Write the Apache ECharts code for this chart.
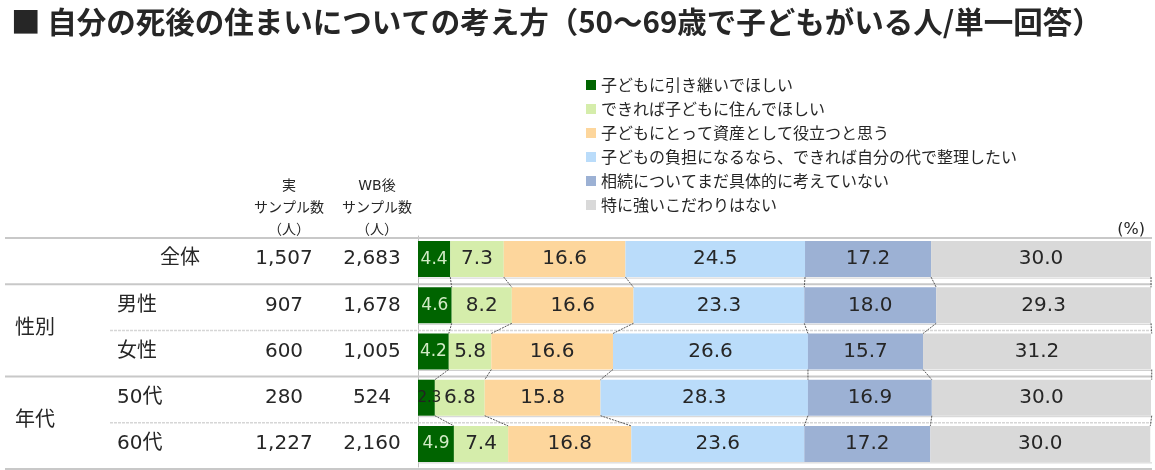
<!DOCTYPE html>
<html><head><meta charset="utf-8">
<script src="https://cdn.jsdelivr.net/npm/echarts@6/dist/echarts.min.js"></script>
<style>html,body{margin:0;padding:0;background:#fff}#c{width:1155px;height:470px}</style>
</head><body><div id="c"></div>
<script>
// ---- data ----
const categories = ['全体', '男性', '女性', '50代', '60代'];
const groupOf = ['全体', '性別', '性別', '年代', '年代'];
const groupLabels = ['', '性別', '', '年代', ''];
const actualN = ['1,507', '907', '600', '280', '1,227'];
const wbN = ['2,683', '1,678', '1,005', '524', '2,160'];
const seriesNames = [
  '子どもに引き継いでほしい',
  'できれば子どもに住んでほしい',
  '子どもにとって資産として役立つと思う',
  '子どもの負担になるなら、できれば自分の代で整理したい',
  '相続についてまだ具体的に考えていない',
  '特に強いこだわりはない'
];
const inheritVals = [4.4, 4.6, 4.2, 2.3, 4.9];
const liveVals = [7.3, 8.2, 5.8, 6.8, 7.4];
const assetVals = [16.6, 16.6, 16.6, 15.8, 16.8];
const tidyVals = [24.5, 23.3, 26.6, 28.3, 23.6];
const undecidedVals = [17.2, 18.0, 15.7, 16.9, 17.2];
const noPrefVals = [30.0, 29.3, 31.2, 30.0, 30.0];
const headerActual = '実\nサンプル数\n（人）';
const headerWB = 'WB後\nサンプル数\n（人）';
const titleText = '■ 自分の死後の住まいについての考え方（50～69歳で子どもがいる人/単一回答）';

// ---- styles ----
const FONT = "'DejaVu Sans', 'Noto Sans CJK JP', sans-serif";
const CJK = "'Noto Sans CJK JP', sans-serif";
const TXT = '#262626';
const colors = ['#006400', '#d5edab', '#fdd69c', '#badcfa', '#9cb1d4', '#d9d9d9'];
const BAR = 36;

const seriesVals = [inheritVals, liveVals, assetVals, tidyVals, undecidedVals, noPrefVals];

const barSeries = seriesVals.map((vals, si) => ({
  name: seriesNames[si],
  type: 'bar',
  stack: 'total',
  barWidth: BAR,
  itemStyle: { color: colors[si] },
  label: {
    show: true,
    position: 'inside',
    formatter: p => Number(p.value).toFixed(1),
    fontFamily: FONT,
    fontSize: si === 0 ? 17 : 20,
    color: si === 0 ? '#d2ebc6' : TXT
  },
  data: vals.map(v => (si === 0 && v < 3)
    ? { value: v, label: { color: '#222', fontSize: 15, offset: [3, 0] } }
    : v),
  z: 3
}));

// connectors between consecutive rows (series lines)
const connectorData = [];
for (let r = 0; r < categories.length - 1; r++) {
  let cTop = 0, cBot = 0;
  for (let s = 0; s < seriesVals.length; s++) {
    cTop += seriesVals[s][r];
    cBot += seriesVals[s][r + 1];
    connectorData.push([cTop, r, cBot, r + 1]);
  }
}

// table rule lines: [x, row, side(-1 top/+1 bottom), full]
const ruleData = [[0, 0, -1, 1]];
for (let r = 0; r < categories.length; r++) {
  const full = (r === categories.length - 1 || groupOf[r] !== groupOf[r + 1]) ? 1 : 0;
  ruleData.push([0, r, 1, full]);
}

const baseY = {
  type: 'category', data: categories, inverse: true, position: 'left', offset: 0,
  axisLine: { show: false }, axisTick: { show: false }, splitLine: { show: false }
};

const chart = echarts.init(document.getElementById('c'), null, { renderer: 'canvas' });
chart.setOption({
  animation: false,
  backgroundColor: '#fff',
  textStyle: { fontFamily: FONT },
  title: [
    { text: titleText, left: 6, top: 2,
      textStyle: { fontFamily: CJK, fontSize: 29.5, fontWeight: 'bold', color: TXT } },
    { text: headerActual, left: 284, top: 170, textAlign: 'center',
      textStyle: { fontFamily: FONT, fontSize: 14, lineHeight: 22, fontWeight: 'normal', color: TXT } },
    { text: headerWB, left: 372, top: 170, textAlign: 'center',
      textStyle: { fontFamily: FONT, fontSize: 14, lineHeight: 22, fontWeight: 'normal', color: TXT } },
    { text: '(%)', right: 5, top: 217,
      textStyle: { fontFamily: FONT, fontSize: 16, fontWeight: 'normal', color: TXT } }
  ],
  legend: {
    data: seriesNames,
    orient: 'vertical',
    left: 586, top: 77,
    padding: 0,
    itemWidth: 10, itemHeight: 10, itemGap: 8,
    icon: 'rect',
    selectedMode: false,
    textStyle: { fontFamily: CJK, fontSize: 16, lineHeight: 16, color: TXT }
  },
  grid: { left: 418, right: 4, top: 236, bottom: 3, containLabel: false, outerBoundsMode: 'none' },
  xAxis: { type: 'value', min: 0, max: 100, show: false },
  yAxis: [
    Object.assign({}, baseY, {
      axisLine: { show: true, lineStyle: { color: '#bfbfbf', width: 1 } },
      axisLabel: { formatter: (v, i) => wbN[i], margin: 46, align: 'center',
        fontFamily: FONT, fontSize: 20, color: TXT }
    }),
    Object.assign({}, baseY, {
      axisLabel: { formatter: (v, i) => actualN[i], margin: 134, align: 'center',
        fontFamily: FONT, fontSize: 20, color: TXT }
    }),
    Object.assign({}, baseY, {
      axisLabel: { formatter: (v, i) => i === 0 ? '{w|' + v + '}' : v, margin: 301, align: 'left',
        fontFamily: FONT, fontSize: 20, color: TXT,
        rich: { w: { padding: [0, 0, 0, 43], fontFamily: FONT, fontSize: 20, color: TXT } } }
    }),
    Object.assign({}, baseY, {
      axisLabel: { formatter: (v, i) => groupLabels[i] ? '{g|' + groupLabels[i] + '}' : '', margin: 403, align: 'left',
        fontFamily: FONT, fontSize: 20, color: TXT,
        rich: { g: { padding: [46, 0, 0, 0], fontFamily: FONT, fontSize: 20, color: TXT } } }
    })
  ],
  series: barSeries.concat([
    {
      type: 'custom', name: 'rules', silent: true, clip: false, z: 1,
      encode: { x: 0, y: 1 },
      data: ruleData,
      renderItem: (params, api) => {
        const c = api.coord([0, api.value(1)]);
        const band = api.size([0, 1])[1];
        const side = api.value(2);
        const full = api.value(3);
        const y = c[1] + side * band / 2 + 2;
        const kids = [{
          type: 'line',
          shape: { x1: full ? 5 : 110, y1: y, x2: 1152, y2: y },
          style: { stroke: full ? '#c8c8c8' : '#d6d6d6', lineWidth: full ? 2 : 1.5, lineDash: full ? null : [3, 1] }
        }];
        if (side > 0) {
          const yb = c[1] + BAR / 2 + 1;
          kids.push({ type: 'line', shape: { x1: c[0], y1: yb, x2: 1152, y2: yb },
            style: { stroke: '#d0d0d0', lineWidth: 1 } });
        }
        return { type: 'group', children: kids };
      }
    },
    {
      type: 'custom', name: 'connectors', silent: true, clip: false, z: 4,
      encode: { x: 0, y: 1 },
      data: connectorData,
      renderItem: (params, api) => {
        const p1 = api.coord([api.value(0), api.value(1)]);
        const p2 = api.coord([api.value(2), api.value(3)]);
        return {
          type: 'line',
          shape: { x1: p1[0], y1: p1[1] + BAR / 2, x2: p2[0], y2: p2[1] - BAR / 2 },
          style: { stroke: '#595959', lineWidth: 1, lineDash: [2, 1] }
        };
      }
    }
  ])
});
</script>
</body></html>
